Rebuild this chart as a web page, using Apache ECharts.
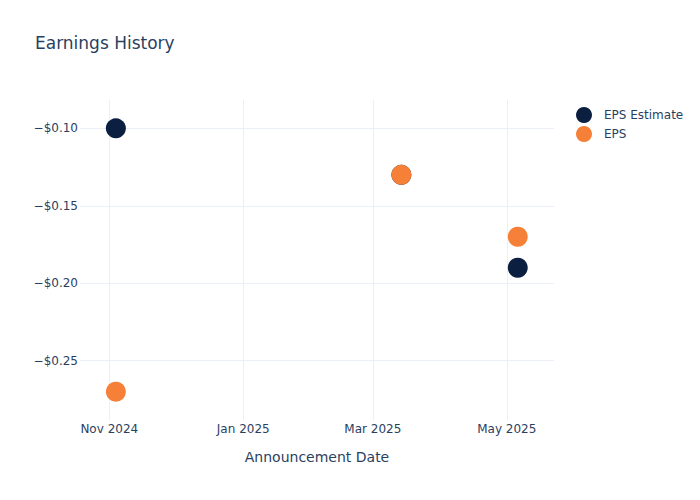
<!DOCTYPE html>
<html>
<head>
<meta charset="utf-8">
<script src="https://cdn.jsdelivr.net/npm/echarts@6/dist/echarts.min.js"></script>
<style>
html,body{margin:0;padding:0;background:#fff;}
#chart{width:700px;height:500px;}
</style>
</head>
<body>
<div id="chart"></div>
<script>
const dates = ['2024-11-04', '2025-03-14', '2025-05-06'];
const epsEstimate = [-0.10, -0.13, -0.19];
const epsActual = [-0.27, -0.13, -0.17];
const xRange = ['2024-10-18T16:00:00', '2025-05-22T12:00:00'];
const yRange = [-0.2883, -0.0817];
const monthNames = ['Jan','Feb','Mar','Apr','May','Jun','Jul','Aug','Sep','Oct','Nov','Dec'];

const FONT = 'DejaVu Sans';
const TXT = '#2a3f5f';
const GRID = '#EBF0F8';

function money(v) {
  const s = '$' + Math.abs(v).toFixed(2);
  return v < 0 ? '\u2212' + s : s;
}

const chart = echarts.init(document.getElementById('chart'), null, {renderer: 'svg'});
chart.setOption({
  animation: false,
  backgroundColor: '#fff',
  title: {
    text: 'Earnings History',
    left: 30, top: 29,
    textStyle: {fontFamily: FONT, fontSize: 17, fontWeight: 'normal', color: TXT}
  },
  legend: {
    left: 571, top: 102,
    orient: 'vertical',
    itemWidth: 16, itemHeight: 16, itemGap: 3,
    icon: 'circle',
    textStyle: {fontFamily: FONT, fontSize: 12, color: TXT, padding: [0, 0, 0, 7]},
    data: ['EPS Estimate', 'EPS']
  },
  grid: {left: 80, right: 146, top: 100, bottom: 80, containLabel: false},
  xAxis: {
    type: 'time',
    min: new Date(xRange[0]).getTime(),
    max: new Date(xRange[1]).getTime(),
    splitNumber: 3,
    name: 'Announcement Date',
    nameLocation: 'middle',
    nameGap: 30,
    nameTextStyle: {fontFamily: FONT, fontSize: 14, color: TXT},
    axisLine: {show: false},
    axisTick: {show: false},
    splitLine: {show: true, showMinLine: false, showMaxLine: false, lineStyle: {color: GRID, width: 1}},
    axisLabel: {
      fontFamily: FONT, fontSize: 12, color: TXT, margin: 3,
      showMinLabel: false, showMaxLabel: false,
      hideOverlap: false,
      formatter: function (v) {
        const d = new Date(v);
        return monthNames[d.getMonth()] + ' ' + d.getFullYear();
      },
      rich: {}
    }
  },
  yAxis: {
    type: 'value',
    min: yRange[0],
    max: yRange[1],
    splitNumber: 4,
    axisLine: {show: false},
    axisTick: {show: false},
    splitLine: {show: true, showMinLine: false, showMaxLine: false, lineStyle: {color: GRID, width: 1}},
    axisLabel: {
      fontFamily: FONT, fontSize: 12, color: TXT, margin: 2,
      showMinLabel: false, showMaxLabel: false,
      formatter: money
    }
  },
  series: [
    {
      name: 'EPS Estimate',
      type: 'scatter',
      symbolSize: 20,
      itemStyle: {color: '#0b1f41', opacity: 1},
      data: dates.map((d, i) => [d, epsEstimate[i]])
    },
    {
      name: 'EPS',
      type: 'scatter',
      symbolSize: 20,
      itemStyle: {color: '#f68037', opacity: 1},
      data: dates.map((d, i) => [d, epsActual[i]])
    }
  ]
});
</script>
</body>
</html>
